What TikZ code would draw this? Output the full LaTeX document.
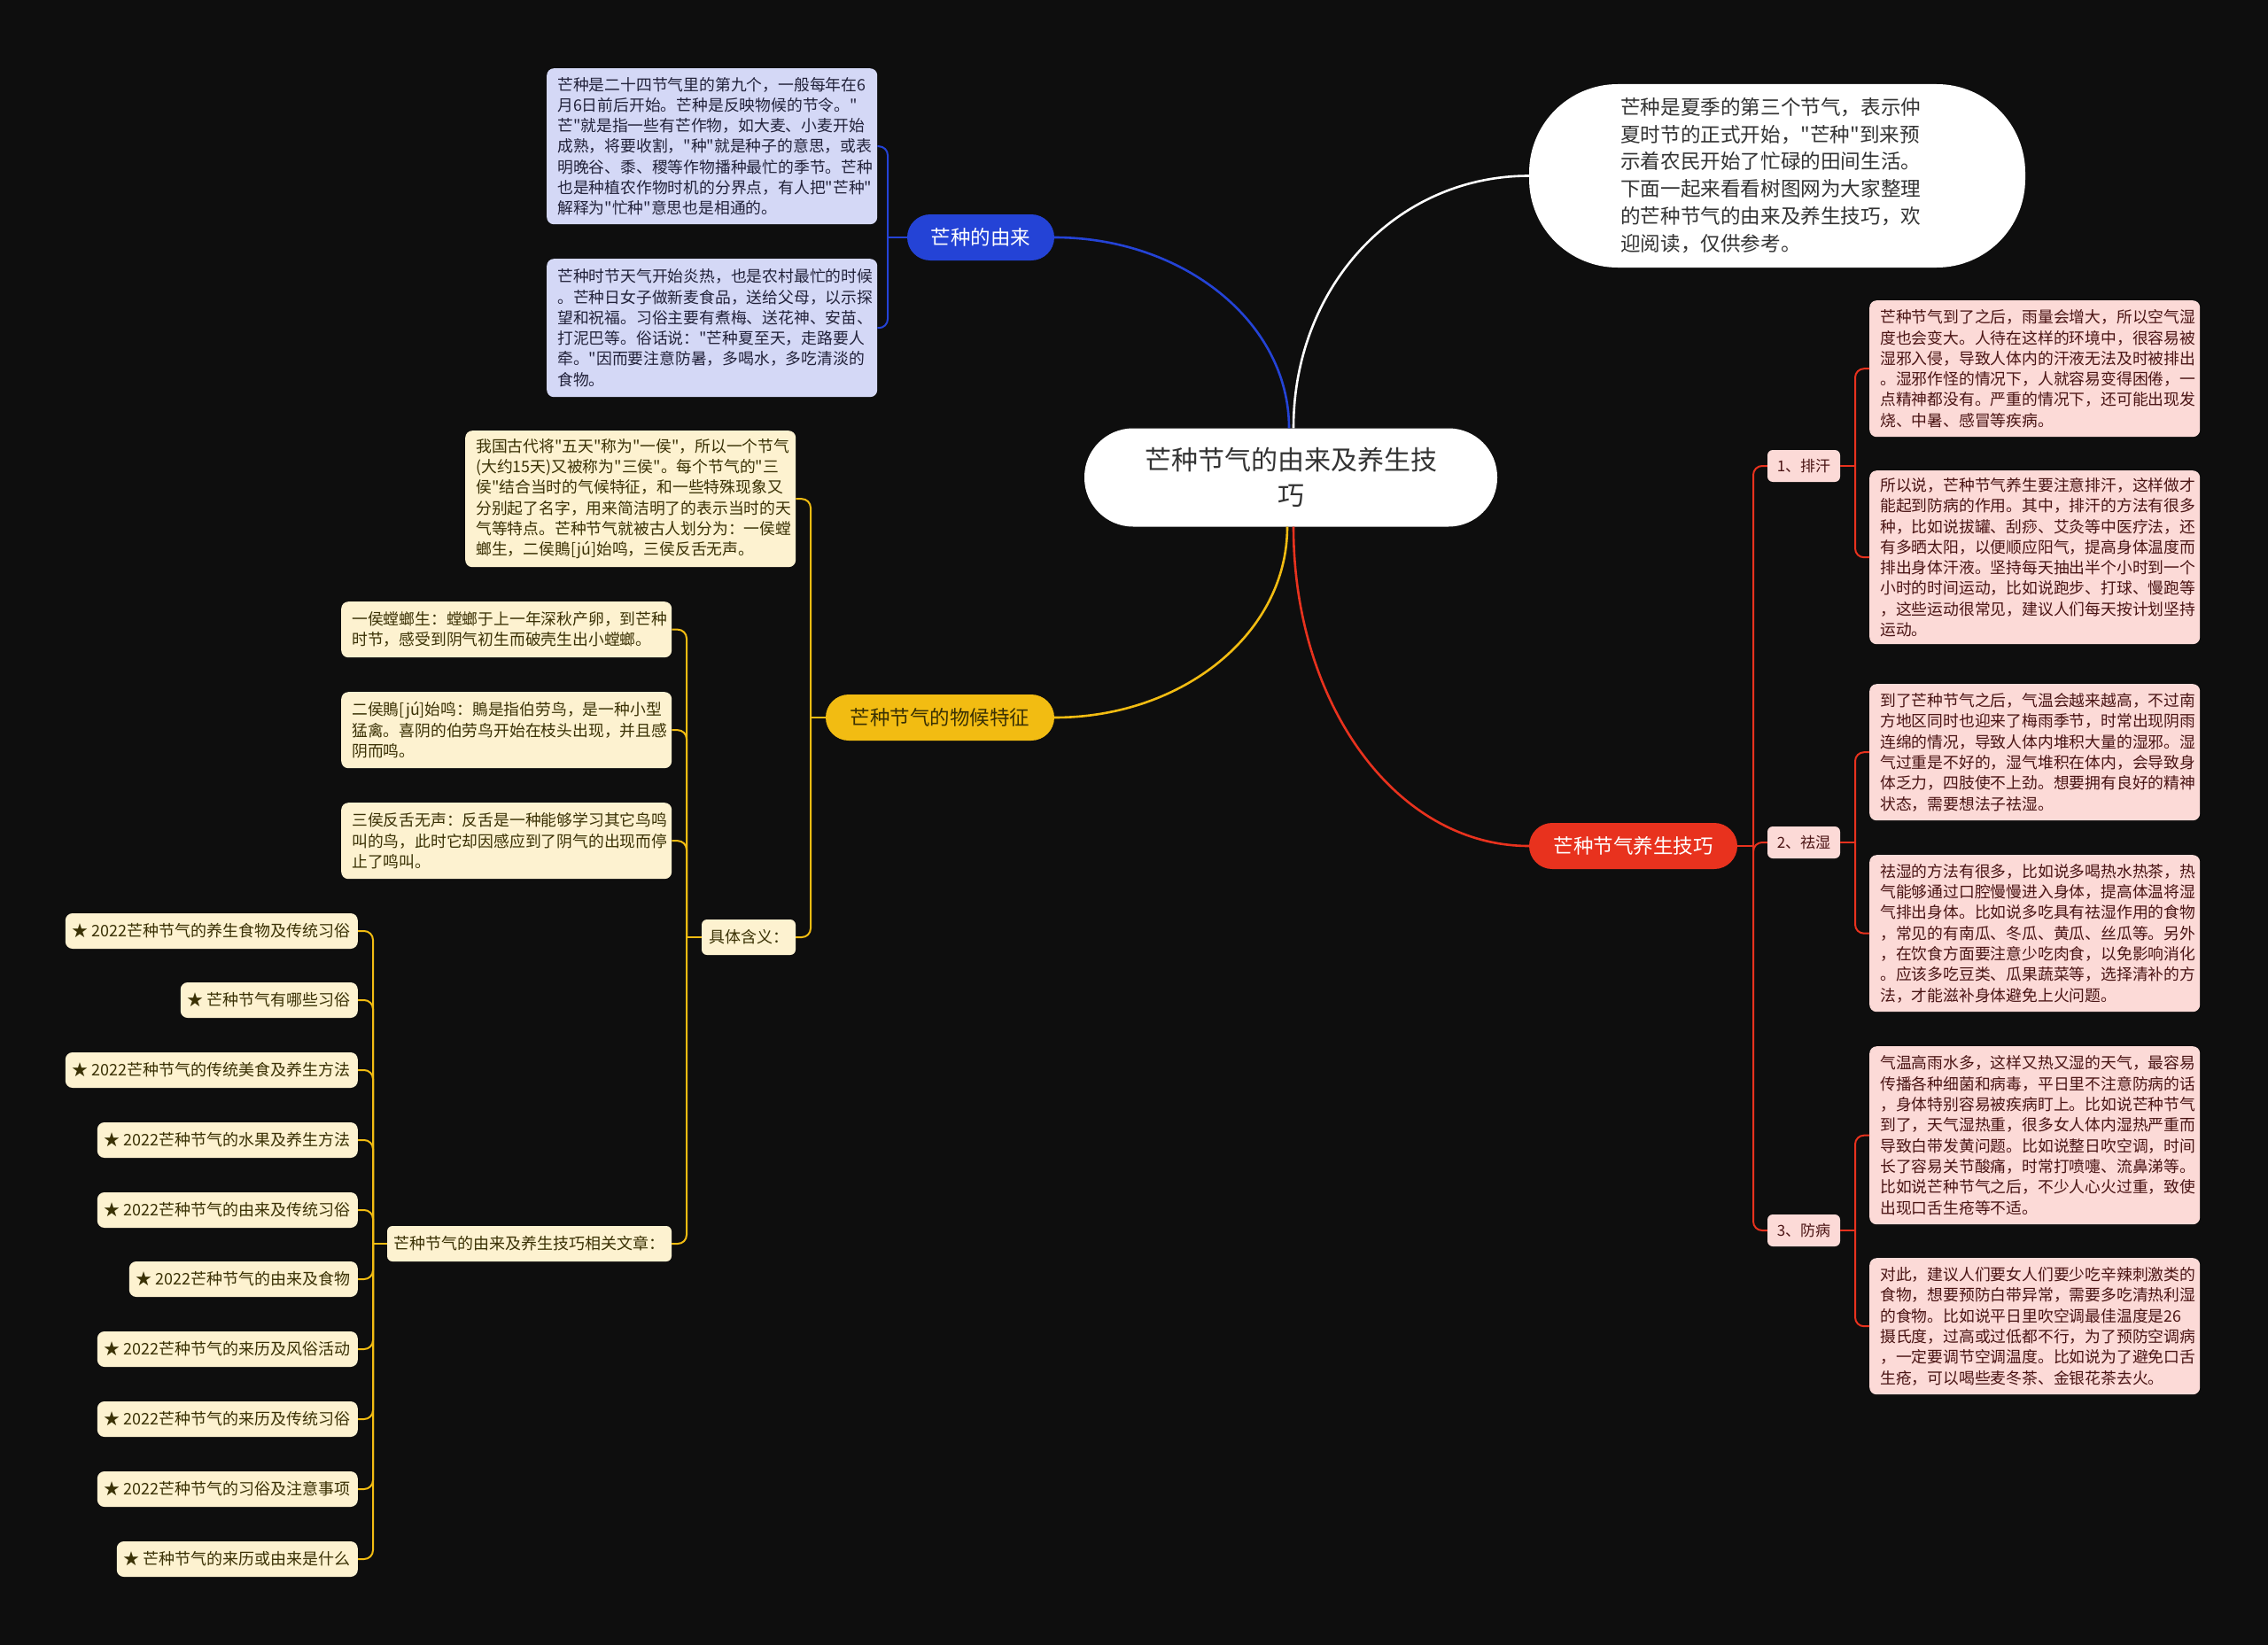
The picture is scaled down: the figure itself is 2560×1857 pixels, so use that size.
\documentclass[tikz,border=0pt]{standalone}
\usepackage{fontspec}
\newfontfamily\cjk{Noto Sans CJK SC}
\usetikzlibrary{calc}
\definecolor{bg}{HTML}{0E0E0E}
\definecolor{cblue}{HTML}{2443D6}
\definecolor{cyel}{HTML}{F2BC12}
\definecolor{cred}{HTML}{E8321E}
\definecolor{fpur}{HTML}{D4D8F6}
\definecolor{fyel}{HTML}{FDF2D0}
\definecolor{fpink}{HTML}{FCDAD7}
\definecolor{tpur}{HTML}{22223A}
\definecolor{tyel}{HTML}{3A3104}
\definecolor{tpink}{HTML}{4A1414}
\definecolor{troot}{HTML}{333333}
\tikzset{
  txtbox/.style={rounded corners=8pt, inner xsep=12pt, inner ysep=4pt, align=left,
    font=\cjk\fontsize{17.8}{23.3}\selectfont, anchor=north west, text width=349pt},
  purbox/.style={txtbox, fill=fpur, text=tpur},
  yelbox/.style={txtbox, fill=fyel, text=tyel},
  pinkbox/.style={txtbox, fill=fpink, text=tpink},
  item/.style={fill=fyel, text=tyel, rounded corners=8pt, inner xsep=8pt, inner ysep=0pt,
    minimum height=40pt, anchor=east, font=\cjk\fontsize{18}{22}\selectfont},
  ylabel/.style={fill=fyel, text=tyel, rounded corners=6pt, inner sep=0pt,
    minimum height=40pt, font=\cjk\fontsize{18}{22}\selectfont},
  plabel/.style={fill=fpink, text=tpink, rounded corners=6pt, inner sep=0pt,
    minimum width=82pt, minimum height=36pt, font=\cjk\fontsize{17}{20}\selectfont},
  pill/.style={rounded corners=26pt, minimum height=52pt, inner sep=0pt,
    font=\cjk\fontsize{22.5}{26}\selectfont},
  rootn/.style={fill=white, text=troot, rounded corners=55pt, minimum width=466pt,
    minimum height=111pt, inner sep=0pt, align=center, font=\cjk\fontsize{30}{40}\selectfont},
  main/.style={line width=2.6pt},
  conn/.style={line width=2pt, rounded corners=10pt},
}
\begin{document}
\begin{tikzpicture}[x=1pt,y=-1pt]
\fill[bg] (0,0) rectangle (2560,1857);
\useasboundingbox (0,0) rectangle (2560,1857);

% root and intro
\node[rootn] (root) at (1457,539) {芒种节气的由来及养生技\\巧};
\node[fill=white, rounded corners=100pt, minimum width=560pt, minimum height=207pt, inner sep=0pt] (intro) at (2006,198.5) {};
\node[anchor=west, inner sep=0pt, align=left, text=troot, font=\cjk\fontsize{22.6}{30.7}\selectfont] (introtxt) at (1829,198) {芒种是夏季的第三个节气，表示仲\\夏时节的正式开始，"芒种"到来预\\示着农民开始了忙碌的田间生活。\\下面一起来看看树图网为大家整理\\的芒种节气的由来及养生技巧，欢\\迎阅读，仅供参考。};

% main branches
\node[pill, fill=cblue, text=white, minimum width=166pt] (origin) at (1107,268) {芒种的由来};
\node[pill, fill=cyel, text=tyel, minimum width=258pt] (pheno) at (1061,810) {芒种节气的物候特征};
\node[pill, fill=cred, text=white, minimum width=235pt] (health) at (1843.5,955) {芒种节气养生技巧};

% blue children
\node[purbox, minimum height=176pt] (b1) at (617,77) {芒种是二十四节气里的第九个，一般每年在6\\月6日前后开始。芒种是反映物候的节令。"\\芒"就是指一些有芒作物，如大麦、小麦开始\\成熟，将要收割，"种"就是种子的意思，或表\\明晚谷、黍、稷等作物播种最忙的季节。芒种\\也是种植农作物时机的分界点，有人把"芒种"\\解释为"忙种"意思也是相通的。};
\node[purbox, minimum height=156pt] (b2) at (617,292) {芒种时节天气开始炎热，也是农村最忙的时候\\。芒种日女子做新麦食品，送给父母，以示探\\望和祝福。习俗主要有煮梅、送花神、安苗、\\打泥巴等。俗话说："芒种夏至天，走路要人\\牵。"因而要注意防暑，多喝水，多吃清淡的\\食物。};

% yellow children
\node[yelbox, minimum height=154pt] (y1) at (525,486) {我国古代将"五天"称为"一侯"，所以一个节气\\(大约15天)又被称为"三侯"。每个节气的"三\\侯"结合当时的气候特征，和一些特殊现象又\\分别起了名字，用来简洁明了的表示当时的天\\气等特点。芒种节气就被古人划分为：一侯螳\\螂生，二侯鵙[jú]始鸣，三侯反舌无声。};
\node[ylabel, minimum width=106pt] (meaning) at (845,1058) {具体含义：};
\node[yelbox, minimum height=63pt] (ya) at (385,679) {一侯螳螂生：螳螂于上一年深秋产卵，到芒种\\时节，感受到阴气初生而破壳生出小螳螂。};
\node[yelbox, minimum height=86pt] (yb) at (385,781) {二侯鵙[jú]始鸣：鵙是指伯劳鸟，是一种小型\\猛禽。喜阴的伯劳鸟开始在枝头出现，并且感\\阴而鸣。};
\node[yelbox, minimum height=86pt] (yc) at (385,906) {三侯反舌无声：反舌是一种能够学习其它鸟鸣\\叫的鸟，此时它却因感应到了阴气的出现而停\\止了鸣叫。};
\node[ylabel, minimum width=321pt] (articles) at (597.5,1404) {芒种节气的由来及养生技巧相关文章：};

\node[item] (a1) at (404,1051) {★ 2022芒种节气的养生食物及传统习俗};
\node[item] (a2) at (404,1129) {★ 芒种节气有哪些习俗};
\node[item] (a3) at (404,1208) {★ 2022芒种节气的传统美食及养生方法};
\node[item] (a4) at (404,1287) {★ 2022芒种节气的水果及养生方法};
\node[item] (a5) at (404,1366) {★ 2022芒种节气的由来及传统习俗};
\node[item] (a6) at (404,1444) {★ 2022芒种节气的由来及食物};
\node[item] (a7) at (404,1523) {★ 2022芒种节气的来历及风俗活动};
\node[item] (a8) at (404,1602) {★ 2022芒种节气的来历及传统习俗};
\node[item] (a9) at (404,1681) {★ 2022芒种节气的习俗及注意事项};
\node[item] (a10) at (404,1760) {★ 芒种节气的来历或由来是什么};

% red children
\node[plabel] (sweat) at (2036,526) {1、排汗};
\node[plabel] (damp) at (2036,951) {2、祛湿};
\node[plabel] (disease) at (2036,1389) {3、防病};

\node[pinkbox, minimum height=154pt] (p1a) at (2110,339) {芒种节气到了之后，雨量会增大，所以空气湿\\度也会变大。人待在这样的环境中，很容易被\\湿邪入侵，导致人体内的汗液无法及时被排出\\。湿邪作怪的情况下，人就容易变得困倦，一\\点精神都没有。严重的情况下，还可能出现发\\烧、中暑、感冒等疾病。};
\node[pinkbox, minimum height=196pt] (p1b) at (2110,531) {所以说，芒种节气养生要注意排汗，这样做才\\能起到防病的作用。其中，排汗的方法有很多\\种，比如说拔罐、刮痧、艾灸等中医疗法，还\\有多晒太阳，以便顺应阳气，提高身体温度而\\排出身体汗液。坚持每天抽出半个小时到一个\\小时的时间运动，比如说跑步、打球、慢跑等\\，这些运动很常见，建议人们每天按计划坚持\\运动。};
\node[pinkbox, minimum height=154pt] (p2a) at (2110,772) {到了芒种节气之后，气温会越来越高，不过南\\方地区同时也迎来了梅雨季节，时常出现阴雨\\连绵的情况，导致人体内堆积大量的湿邪。湿\\气过重是不好的，湿气堆积在体内，会导致身\\体乏力，四肢使不上劲。想要拥有良好的精神\\状态，需要想法子祛湿。};
\node[pinkbox, minimum height=177pt] (p2b) at (2110,965) {祛湿的方法有很多，比如说多喝热水热茶，热\\气能够通过口腔慢慢进入身体，提高体温将湿\\气排出身体。比如说多吃具有祛湿作用的食物\\，常见的有南瓜、冬瓜、黄瓜、丝瓜等。另外\\，在饮食方面要注意少吃肉食，以免影响消化\\。应该多吃豆类、瓜果蔬菜等，选择清补的方\\法，才能滋补身体避免上火问题。};
\node[pinkbox, minimum height=201pt] (p3a) at (2110,1181) {气温高雨水多，这样又热又湿的天气，最容易\\传播各种细菌和病毒，平日里不注意防病的话\\，身体特别容易被疾病盯上。比如说芒种节气\\到了，天气湿热重，很多女人体内湿热严重而\\导致白带发黄问题。比如说整日吹空调，时间\\长了容易关节酸痛，时常打喷嚏、流鼻涕等。\\比如说芒种节气之后，不少人心火过重，致使\\出现口舌生疮等不适。};
\node[pinkbox, minimum height=154pt] (p3b) at (2110,1420) {对此，建议人们要女人们要少吃辛辣刺激类的\\食物，想要预防白带异常，需要多吃清热利湿\\的食物。比如说平日里吹空调最佳温度是26\\摄氏度，过高或过低都不行，为了预防空调病\\，一定要调节空调温度。比如说为了避免口舌\\生疮，可以喝些麦冬茶、金银花茶去火。};

% main curves
\draw[cblue, main] ([xshift=-2pt]root.north) .. controls +(0,-120) and +(145,0) .. (origin.east);
\draw[white, main] ([xshift=3pt]root.north) .. controls +(0,-160) and +(-150,0) .. (intro.west);
\draw[cyel, main] ([xshift=-4pt]root.south) .. controls +(0,120) and +(145,0) .. (pheno.east);
\draw[cred, main] ([xshift=3pt]root.south) .. controls +(0,200) and +(-150,0) .. (health.west);

% bracket points
\coordinate (bB) at (1002,268);
\coordinate (bY) at (915,810);
\coordinate (bM) at (775,1058);
\coordinate (bA) at (421,1404);
\coordinate (bR) at (1979,955);
\coordinate (bS) at (2094,526);
\coordinate (bD) at (2094,951);
\coordinate (bP) at (2094,1389);

% blue brackets
\draw[cblue, conn] (origin.west) -- (bB);
\foreach \c in {b1,b2} \draw[cblue, conn] (bB) |- (\c.east);
% yellow brackets
\draw[cyel, conn] (pheno.west) -- (bY);
\foreach \c in {y1,meaning} \draw[cyel, conn] (bY) |- (\c.east);
\draw[cyel, conn] (meaning.west) -- (bM);
\foreach \c in {ya,yb,yc,articles} \draw[cyel, conn] (bM) |- (\c.east);
\draw[cyel, conn] (articles.west) -- (bA);
\foreach \c in {a1,a2,a3,a4,a5,a6,a7,a8,a9,a10} \draw[cyel, conn] (bA) |- (\c.east);
% red brackets
\draw[cred, conn] (health.east) -- (bR);
\foreach \c in {sweat,damp,disease} \draw[cred, conn] (bR) |- (\c.west);
\draw[cred, conn] (sweat.east) -- (bS);
\foreach \c in {p1a,p1b} \draw[cred, conn] (bS) |- (\c.west);
\draw[cred, conn] (damp.east) -- (bD);
\foreach \c in {p2a,p2b} \draw[cred, conn] (bD) |- (\c.west);
\draw[cred, conn] (disease.east) -- (bP);
\foreach \c in {p3a,p3b} \draw[cred, conn] (bP) |- (\c.west);
\end{tikzpicture}
\end{document}
